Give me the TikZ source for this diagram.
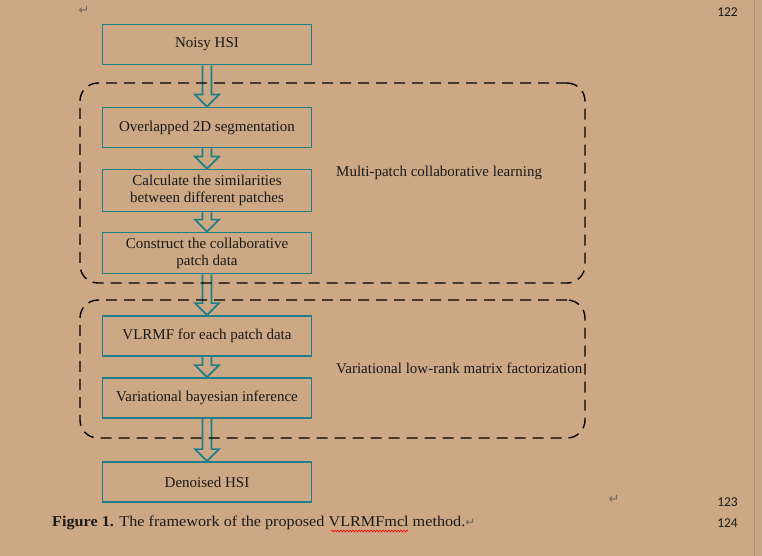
\documentclass[tikz,border=0pt]{standalone}
\usepackage{fontspec}
\setmainfont{Liberation Serif}
\newfontfamily\numfont{Carlito}
\newfontfamily\markfont{DejaVu Sans}
\newfontfamily\capfont[FakeStretch=1.08]{Liberation Serif}
\usetikzlibrary{positioning,calc,decorations.pathmorphing}
\definecolor{page}{HTML}{CCA884}
\definecolor{pagestrip}{HTML}{C7A686}
\definecolor{pageedge}{HTML}{A58D76}
\definecolor{tealbox}{HTML}{1E7F88}
\definecolor{ink}{HTML}{1A1A1A}
\definecolor{pmark}{HTML}{6E6A66}
\newcommand{\hollowarrow}[2]{%
  \draw[blockarr] ($(#1.south)+(-4.5,0)$) -- ($(#2.north)+(-4.5,12)$) -- ($(#2.north)+(-12,12)$)
    -- (#2.north) -- ($(#2.north)+(12,12)$) -- ($(#2.north)+(4.5,12)$) -- ($(#1.south)+(4.5,0)$);}

\begin{document}
\begin{tikzpicture}[x=1pt,y=1pt,font=\fontsize{15}{17}\selectfont,text=ink,
  stepbox/.style={draw=tealbox,line width=1.8pt,fill=page,minimum width=209pt,minimum height=40pt,align=center,inner sep=2pt},
  blockarr/.style={draw=tealbox,line width=1.7pt,fill=page,line join=miter},
  groupbox/.style={draw=black,line width=1.4pt,dash pattern=on 11pt off 7pt,rounded corners=18pt},
  grouplbl/.style={anchor=west,inner sep=0pt},
  pagenum/.style={font=\numfont\fontsize{13.5}{15}\selectfont,inner sep=0pt},
  retmark/.style={font=\markfont\fontsize{13}{14}\selectfont,text=pmark,inner sep=0pt}]
\useasboundingbox (0,0) rectangle (762,-556);
% page
\fill[page] (-6,6) rectangle (768,-562);
\fill[pagestrip] (755,6) rectangle (768,-562);
\draw[pageedge,line width=1pt] (754.5,6) -- (754.5,-562);
% steps
\node[stepbox] (noisy) at (207,-44.5) {Noisy HSI};
\node[stepbox] (seg) at (207,-127.5) {Overlapped 2D segmentation};
\node[stepbox,minimum height=42pt] (simi) at (207,-190.5) {Calculate the similarities\\between different patches};
\node[stepbox,minimum height=41pt] (colla) at (207,-253) {Construct the collaborative\\patch data};
\node[stepbox] (vlrmf) at (207,-336) {VLRMF for each patch data};
\node[stepbox] (vbi) at (207,-398) {Variational bayesian inference};
\node[stepbox] (denoised) at (207,-482) {Denoised HSI};
% arrows
\hollowarrow{noisy}{seg}
\hollowarrow{seg}{simi}
\hollowarrow{simi}{colla}
\hollowarrow{colla}{vlrmf}
\hollowarrow{vlrmf}{vbi}
\hollowarrow{vbi}{denoised}
% groups
\node[groupbox,minimum width=505pt,minimum height=200pt] (mpcl) at (332.5,-183) {};
\node[groupbox,minimum width=505pt,minimum height=138pt] (vlr) at (332.5,-369) {};
\node[grouplbl] (mpcllbl) at (336,-173) {Multi-patch collaborative learning};
\node[grouplbl] (vlrlbl) at (336,-368) {Variational low-rank matrix factorization};
% page furniture
\node[retmark] (ret1) at (84,-10) {↵};
\node[retmark] (ret2) at (614,-499) {↵};
\node[pagenum,anchor=east] (p122) at (738,-12) {122};
\node[pagenum,anchor=east] (p123) at (738,-502) {123};
\node[pagenum,anchor=east] (p124) at (738,-523) {124};
\node[anchor=west,inner sep=0pt,font=\capfont\fontsize{15}{17}\selectfont] (caption) at (52,-523)
  {\textbf{Figure 1.} The framework of the proposed VLRMFmcl method.{\markfont\fontsize{12}{13}\selectfont\color{pmark}↵}};
\draw[red,line width=0.6pt,decorate,decoration={snake,amplitude=0.9pt,segment length=3pt}]
  (331,-531) -- (408,-531);
\end{tikzpicture}
\end{document}
